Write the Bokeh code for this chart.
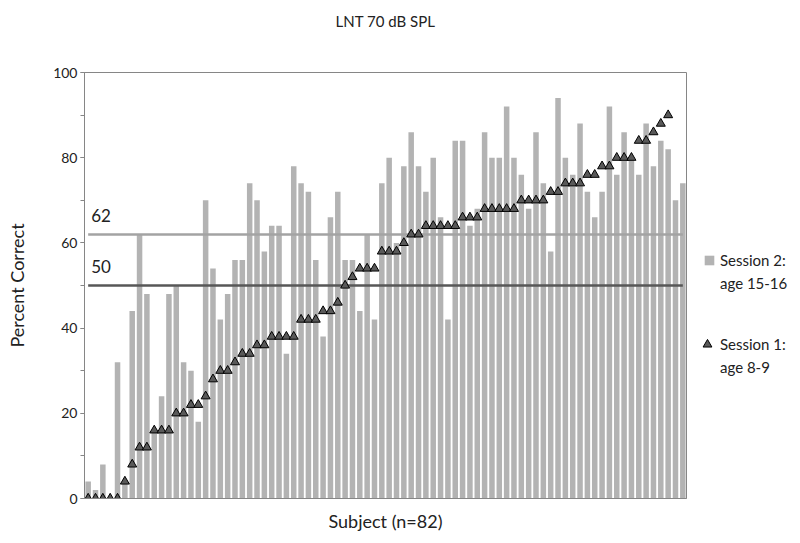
from bokeh.plotting import figure
from bokeh.layouts import row
from bokeh.models import (Range1d, SingleIntervalTicker, FixedTicker, Legend, LegendItem,
                          Title)
from bokeh.core.properties import value
from bokeh.embed import file_html
from bokeh.resources import INLINE

# ---- data ----
subjects = list(range(1, 83))
session2 = [4, 2, 8, 0, 32, 4, 44, 62, 48, 16,
            24, 48, 50, 32, 30, 18, 70, 54, 42, 48,
            56, 56, 74, 70, 58, 64, 64, 34, 78, 74,
            72, 56, 38, 66, 72, 56, 56, 44, 62, 42,
            74, 80, 60, 78, 86, 78, 72, 80, 66, 42,
            84, 84, 64, 68, 86, 80, 80, 92, 80, 76,
            68, 86, 74, 58, 94, 80, 76, 88, 72, 66,
            72, 92, 76, 86, 80, 76, 88, 78, 84, 82,
            70, 74]
session1 = [0, 0, 0, 0, 0, 4, 8, 12, 12, 16,
            16, 16, 20, 20, 22, 22, 24, 28, 30, 30,
            32, 34, 34, 36, 36, 38, 38, 38, 38, 42,
            42, 42, 44, 44, 46, 50, 52, 54, 54, 54,
            58, 58, 58, 60, 62, 62, 64, 64, 64, 64,
            64, 66, 66, 66, 68, 68, 68, 68, 68, 70,
            70, 70, 70, 72, 72, 74, 74, 74, 76, 76,
            78, 78, 80, 80, 80, 84, 84, 86, 88, 90]
thresholds = [62, 50]
threshold_labels = ["62", "50"]
threshold_colors = ["#a3a3a3", "#575757"]
y_ticks_interval = 20

FONT = "Lato"
AXIS_GRAY = "#868686"
BAR_COLOR = "#b3b3b3"
TRI_FILL = "#595959"
TEXT_COLOR = "#222222"

H = 535
p = figure(width=688, height=H, x_range=Range1d(0.5, 82.5), y_range=Range1d(0, 100),
           output_backend="svg", toolbar_location=None,
           min_border_left=84, min_border_right=2, min_border_top=72, min_border_bottom=37)

p.title = Title(text="LNT 70 dB SPL", align="center", text_font=FONT, text_font_size="15px",
                text_font_style="normal", text_color=TEXT_COLOR, standoff=0)
# blank spacer title (keeps the real title well above the frame)
p.add_layout(Title(text=" ", text_font=FONT, text_font_size="34px", standoff=0), "above")

bars = p.vbar(x=subjects, top=session2, bottom=0, width=0.75, fill_color=BAR_COLOR, line_color=None)

for thr, lab, col in zip(thresholds, threshold_labels, threshold_colors):
    p.line(x=[subjects[0], subjects[-1]], y=[thr, thr], line_color=col, line_width=2.5)
    p.text(x=[subjects[0]], y=[thr], text=[lab], x_offset=3, y_offset=-19,
           text_font=value(FONT), text_font_size="17px", text_color=TEXT_COLOR,
           text_baseline="alphabetic", text_align="left")

tri = p.scatter(x=subjects[:len(session1)], y=session1, marker="triangle", size=9,
                fill_color=TRI_FILL, line_color="black", line_width=1)

p.grid.visible = False
p.outline_line_color = AXIS_GRAY
p.background_fill_color = "white"

p.yaxis.ticker = SingleIntervalTicker(interval=y_ticks_interval, num_minor_ticks=2)
p.yaxis.axis_label = "Percent Correct"
p.yaxis.axis_label_text_font = FONT
p.yaxis.axis_label_text_font_size = "18px"
p.yaxis.axis_label_text_font_style = "normal"
p.yaxis.axis_label_text_color = TEXT_COLOR
p.yaxis.axis_label_standoff = 22
p.yaxis.major_label_text_font = FONT
p.yaxis.major_label_text_font_size = "14px"
p.yaxis.major_label_text_color = TEXT_COLOR
p.yaxis.major_label_standoff = 3
p.yaxis.major_tick_out = 4
p.yaxis.major_tick_in = 0
p.yaxis.minor_tick_out = 4
p.yaxis.minor_tick_in = 0
p.yaxis.axis_line_color = AXIS_GRAY
p.yaxis.major_tick_line_color = AXIS_GRAY
p.yaxis.minor_tick_line_color = AXIS_GRAY

p.xaxis.ticker = FixedTicker(ticks=[])
p.xaxis.axis_label = "Subject (n=82)"
p.xaxis.axis_label_text_font = FONT
p.xaxis.axis_label_text_font_size = "18px"
p.xaxis.axis_label_text_font_style = "normal"
p.xaxis.axis_label_text_color = TEXT_COLOR
p.xaxis.axis_label_standoff = 11
p.xaxis.major_tick_out = 0
p.xaxis.major_label_standoff = 0
p.xaxis.axis_line_color = AXIS_GRAY

# ---- legend panel (separate, axis-less figure to the right) ----
lg = figure(width=104, height=H, x_range=Range1d(0, 1), y_range=Range1d(0, 1),
            output_backend="svg", toolbar_location=None,
            min_border_left=0, min_border_right=0, min_border_top=0, min_border_bottom=0)
lg.axis.visible = False
lg.grid.visible = False
lg.outline_line_color = None

# key renderers: one point each, placed outside the visible range
bar_key = lg.vbar(x=[-5], top=[-5], bottom=[-6], width=0.5, fill_color=BAR_COLOR, line_color=None)
tri_key = lg.scatter(x=[-5], y=[-5], marker="triangle", size=9,
                     fill_color=TRI_FILL, line_color="black", line_width=1)
blank = lg.scatter(x=[-5], y=[-5], marker="square", fill_alpha=0, line_alpha=0)

legend_style = dict(border_line_alpha=0, background_fill_alpha=0,
                    label_text_font=FONT, label_text_font_size="15px",
                    label_text_color=TEXT_COLOR, padding=0, margin=0)
leg2 = Legend(items=[LegendItem(label="Session 2:", renderers=[bar_key]),
                     LegendItem(label="age 15-16", renderers=[blank])],
              location=(15, 206), glyph_width=12, glyph_height=12, label_standoff=5,
              spacing=5, **legend_style)
leg1 = Legend(items=[LegendItem(label="Session 1:", renderers=[tri_key]),
                     LegendItem(label="age 8-9", renderers=[blank])],
              location=(8, 120), glyph_width=22, glyph_height=22, label_standoff=2,
              spacing=1, **legend_style)
lg.add_layout(leg2)
lg.add_layout(leg1)

layout = row(p, lg, spacing=0)
open("out.html", "w").write(file_html(layout, INLINE))
